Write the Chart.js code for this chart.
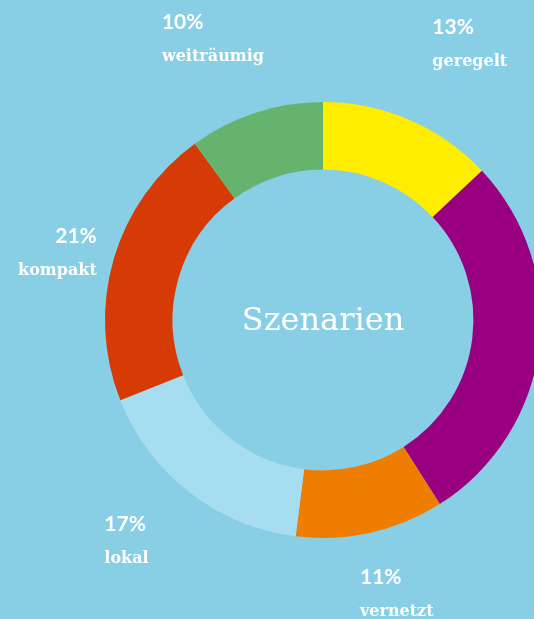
<!DOCTYPE html>
<html lang="de">
<head>
<meta charset="utf-8">
<title>Szenarien</title>
<script src="https://cdn.jsdelivr.net/npm/chart.js@4.4.0/dist/chart.umd.min.js"></script>
<style>
  html, body { margin: 0; padding: 0; background: #88cfe5; overflow: hidden; }
  .graph-section { width: 534px; height: 619px; overflow: hidden; position: relative; }
  #myChart { position: absolute; left: 0; top: 0; }
</style>
</head>
<body>
<div class="graph-section"><canvas id="myChart" width="646" height="619"></canvas></div>
<script>
// shares per scenario, clockwise from the top
const szenarien = ['geregelt', '', 'vernetzt', 'lokal', 'kompakt', 'weiträumig'];
const anteile = [13, 28, 11, 17, 21, 10];
const farben = ['#ffed00', '#990080', '#ef7d00', '#a6ddf0', '#d63b05', '#66b36e'];

// label layout: text alignment and a small nudge off the arc's mid direction
const labelAlign = ['left', 'left', 'left', 'left', 'right', 'left'];
const labelShift = [[-9, -13], [0, 0], [-28, -27], [-36, -24], [60, 6], [-69, -8]];

const szenarioLabels = {
  id: 'szenarioLabels',
  afterDatasetsDraw(chart) {
    let ctx = chart.ctx
    let meta = chart.getDatasetMeta(0)
    let cx = 0, cy = 0

    ctx.save()
    ctx.fillStyle = '#ffffff'
    ctx.textBaseline = 'alphabetic'

    meta.data.forEach((arc, i) => {
      let p = arc.getProps(['x', 'y', 'startAngle', 'endAngle', 'outerRadius'], true)
      cx = p.x
      cy = p.y
      if (!szenarien[i]) return

      let mid = (p.startAngle + p.endAngle) / 2
      let r = p.outerRadius + 80
      let x = p.x + Math.cos(mid) * r + labelShift[i][0]
      let y = p.y + Math.sin(mid) * r + labelShift[i][1]

      ctx.textAlign = labelAlign[i]
      ctx.font = 'bold 21px Lato'
      ctx.fillText(anteile[i] + '%', x, y)
      ctx.font = 'bold 16px "DejaVu Serif"'
      ctx.fillText(szenarien[i], x, y + 32)
    })

    // title in the hole
    ctx.textAlign = 'center'
    ctx.font = '32px "DejaVu Serif"'
    ctx.fillText('Szenarien', cx, cy + 10)
    ctx.restore()
  }
};

let data = {
  labels: szenarien,
  datasets: [{
    data: anteile,
    backgroundColor: farben,
    borderWidth: 0,
    hoverOffset: 0,
    offset: 0
  }]
};

let config = {
  type: 'doughnut',
  data: data,
  options: {
    responsive: false,
    devicePixelRatio: 1,
    animation: false,
    cutout: '69%',
    layout: {
      padding: { top: 102, bottom: 81, left: 0, right: 0 }
    },
    plugins: {
      legend: { display: false },
      tooltip: { enabled: false }
    }
  },
  plugins: [szenarioLabels]
};

let myChart = new Chart(document.getElementById('myChart'), config)
</script>
</body>
</html>
